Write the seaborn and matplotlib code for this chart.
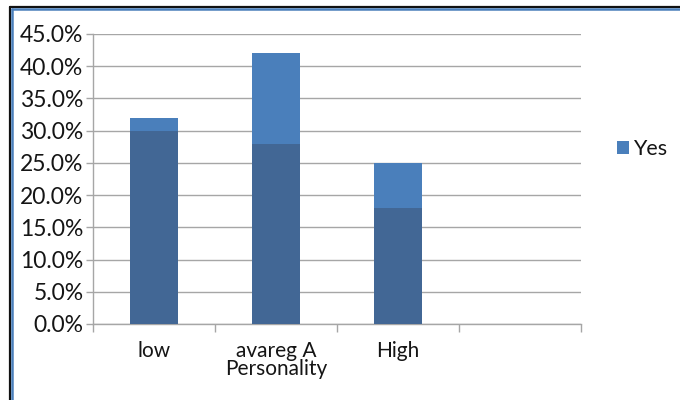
import matplotlib
matplotlib.use("Agg")
import matplotlib.pyplot as plt
from matplotlib.lines import Line2D
from matplotlib.patches import Patch
from matplotlib.ticker import FixedLocator, PercentFormatter
import seaborn as sns
import pandas as pd

categories = ["low", "avareg A\nPersonality", "High"]
yes_values = [32.0, 42.0, 25.0]
base_values = [30.0, 28.0, 18.0]
y_ticks = [0, 5, 10, 15, 20, 25, 30, 35, 40, 45]

sns.set_theme(style="white")
plt.rcParams["font.family"] = ["Lato", "DejaVu Sans"]

light = "#4a7fbb"
dark = "#426795"
grid_col = "#a6a6a6"
text_col = "#151515"

df = pd.DataFrame({"cat": categories, "yes": yes_values, "base": base_values})

fig = plt.figure(figsize=(6.8, 4.0), dpi=100)
ax = fig.add_axes([0.137, 0.19, 0.717, 0.725])

sns.barplot(data=df, x="cat", y="yes", color=light, width=0.4,
            saturation=1, linewidth=0, ax=ax, zorder=2)
sns.barplot(data=df, x="cat", y="base", color=dark, width=0.4,
            saturation=1, linewidth=0, ax=ax, zorder=3)

ax.set_xlim(-0.5, 3.5)
ax.set_ylim(0, 45)
ax.yaxis.set_major_locator(FixedLocator(y_ticks))
ax.yaxis.set_major_formatter(PercentFormatter(decimals=1))
ax.yaxis.grid(True, color=grid_col, linewidth=1.0, zorder=0)
ax.set_axisbelow(True)
ax.set_xlabel("")
ax.set_ylabel("")

for side in ("top", "right"):
    ax.spines[side].set_visible(False)
for side in ("left", "bottom"):
    ax.spines[side].set_color(grid_col)
    ax.spines[side].set_linewidth(1.0)

ax.set_xticks(range(len(categories)))
ax.set_xticklabels(categories, fontsize=15, color=text_col, linespacing=0.9)
ax.xaxis.set_minor_locator(FixedLocator([-0.5, 0.5, 1.5, 2.5, 3.5]))
ax.tick_params(axis="x", which="major", length=0, pad=12)
ax.tick_params(axis="x", which="minor", length=6, color=grid_col, width=1,
               direction="out", bottom=True)
ax.tick_params(axis="y", length=5, color=grid_col, width=1, direction="out",
               left=True, labelsize=16.5, labelcolor=text_col, pad=2)

handle = Patch(facecolor=light, edgecolor="none")
fig.legend([handle], ["Yes"], loc="center left", bbox_to_anchor=(0.907, 0.627),
           frameon=False, fontsize=15.5, handlelength=0.55, handleheight=0.55,
           handletextpad=0.2, borderaxespad=0, borderpad=0, labelcolor=text_col)

# frame around the chart area
fig.add_artist(Line2D([0.015, 1.0], [0.982, 0.982], transform=fig.transFigure,
                      color="#111111", linewidth=1.6))
fig.add_artist(Line2D([0.015, 0.015], [0.0, 0.982], transform=fig.transFigure,
                      color="#111111", linewidth=1.6))
fig.add_artist(Line2D([0.018, 1.0], [0.977, 0.977], transform=fig.transFigure,
                      color="#4a7fbb", linewidth=1.8))
fig.add_artist(Line2D([0.018, 0.018], [0.0, 0.977], transform=fig.transFigure,
                      color="#4a7fbb", linewidth=1.8))

fig.savefig("out.png", dpi=100, facecolor="white")
